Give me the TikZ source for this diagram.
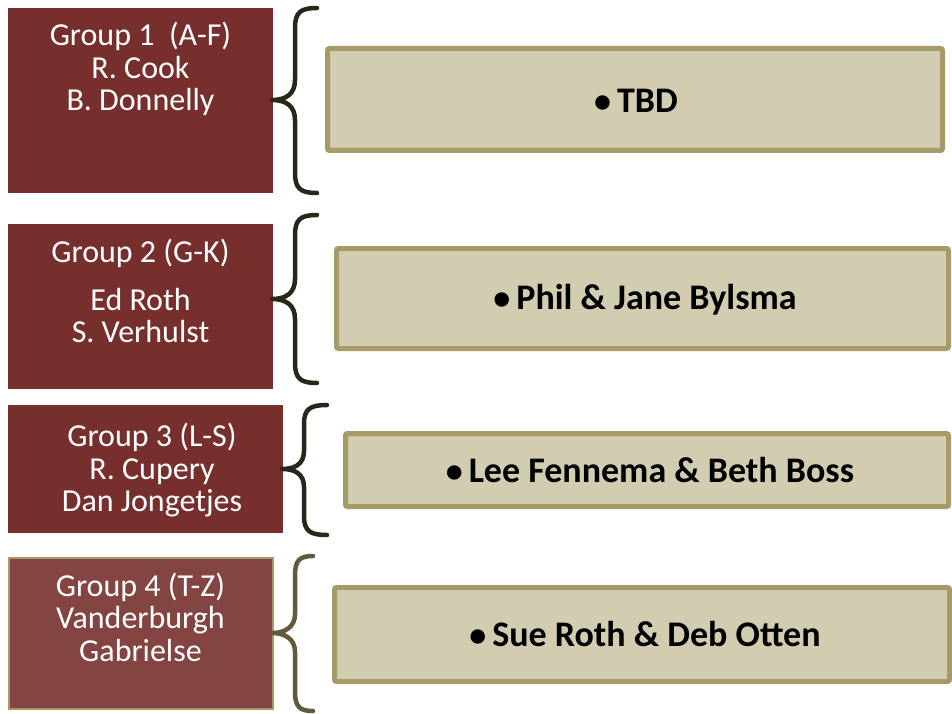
\documentclass[tikz,border=0pt]{standalone}
\usepackage{fontspec}
\setmainfont{Carlito}
\definecolor{darkred}{HTML}{772F2E}
\definecolor{lightred}{HTML}{844542}
\definecolor{tanfill}{HTML}{D2CDB0}
\definecolor{tanline}{HTML}{A69A68}
\definecolor{bracedark}{HTML}{29261A}
\definecolor{braceolive}{HTML}{625A3C}
\tikzset{
  lbox/.style={fill=darkred, draw=none, anchor=north west, inner sep=0pt},
  ltext/.style={text=white, align=center, inner sep=0pt, font=\fontsize{32}{32.5}\selectfont},
  rbox/.style={fill=tanfill, draw=tanline, line width=5pt, rounded corners=2pt, inner sep=0pt},
  rtext/.style={text=black, inner sep=0pt, font=\fontsize{36}{40}\selectfont\bfseries},
  bracestyle/.style={draw=bracedark, line width=4.5pt, line cap=round, line join=round},
}
\newcommand{\bul}{{\fontsize{34}{34}\selectfont •}\hspace{6pt}}
\begin{document}
\begin{tikzpicture}[x=1pt,y=-1pt]
\useasboundingbox (0,0) rectangle (952,714);
% left boxes
\node[lbox, minimum width=265pt, minimum height=185pt] (g1) at (8,8) {};
\node[lbox, minimum width=265pt, minimum height=165pt] (g2) at (8,224) {};
\node[lbox, minimum width=275pt, minimum height=128pt] (g3) at (8,405) {};
\node[fill=lightred, draw=tanline, line width=2pt, inner sep=0pt, minimum width=264pt, minimum height=151pt] (g4) at (141,633.5) {};
% left texts
\node[ltext] (g1t) at (140.5,69) {Group 1\ \ (A-F)\\R. Cook\\B. Donnelly};
\node[ltext] (g2t) at (140.5,291) {Group 2 (G-K)\\[15pt]Ed Roth\\S. Verhulst};
\node[ltext] (g3t) at (152,470.5) {Group 3 (L-S)\\R. Cupery\\Dan Jongetjes};
\node[ltext] (g4t) at (140.5,617) {Group 4 (T-Z)\\Vanderburgh\\Gabrielse};
% right boxes
\node[rbox, minimum width=615pt, minimum height=102pt] (r1) at (635,99.5) {};
\node[rbox, minimum width=612pt, minimum height=100pt] (r2) at (642.5,298.5) {};
\node[rbox, minimum width=603pt, minimum height=73pt] (r3) at (647,470) {};
\node[rbox, minimum width=615pt, minimum height=94pt] (r4) at (642,634.5) {};
% right texts
\node[rtext] (r1t) at (636,101) {\bul TBD};
\node[rtext] (r2t) at (645,300) {\bul Phil \& Jane Bylsma};
\node[rtext] (r3t) at (650,470) {\bul Lee Fennema \& Beth Boss};
\node[rtext] (r4t) at (645,634) {\bul Sue Roth \& Deb Otten};
% braces
\draw[bracestyle] (317,8) .. controls (301,8) and (295,12) .. (295,28) -- (295,80)
  .. controls (295,94) and (286,100) .. (272,100)
  .. controls (286,100) and (295,106) .. (295,120) -- (295,173)
  .. controls (295,189) and (301,193) .. (317,193);
\draw[bracestyle] (317,215) .. controls (301,215) and (295,219) .. (295,235) -- (295,279)
  .. controls (295,293) and (286,299) .. (272,299)
  .. controls (286,299) and (295,305) .. (295,319) -- (295,363)
  .. controls (295,379) and (301,383) .. (317,383);
\draw[bracestyle] (327,405) .. controls (310,405) and (304,409) .. (304,424) -- (304,451)
  .. controls (304,464) and (295,469) .. (282,469)
  .. controls (295,469) and (304,474) .. (304,487) -- (304,516)
  .. controls (304,531) and (310,535) .. (327,535);
\draw[bracestyle, draw=braceolive] (313,556) .. controls (300,556) and (295,560) .. (295,575) -- (295,614)
  .. controls (295,627) and (285,633) .. (272,633)
  .. controls (285,633) and (295,639) .. (295,652) -- (295,692)
  .. controls (295,707) and (300,711) .. (313,711);
\end{tikzpicture}
\end{document}
